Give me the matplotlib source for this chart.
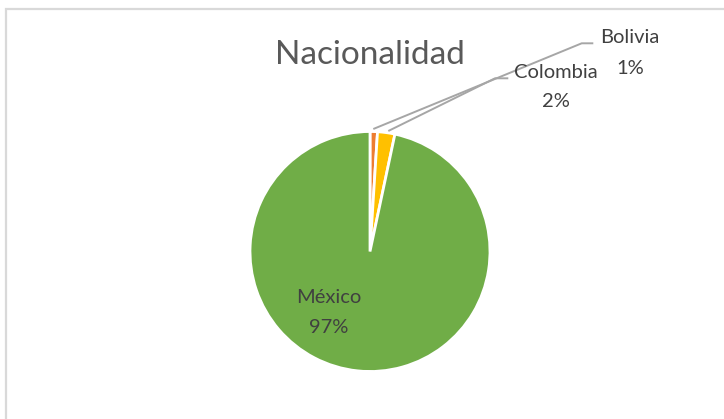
import matplotlib
matplotlib.use("Agg")
import matplotlib.pyplot as plt
from matplotlib.patches import Rectangle

title = "Nacionalidad"
categories = ["Bolivia", "Colombia", "México"]
counts = [3, 7, 290]
colors = ["#ED7D31", "#FFC000", "#70AD47"]

W, H = 724, 419
fig = plt.figure(figsize=(W / 100, H / 100), dpi=100)
plt.rcParams['font.family'] = ['Lato', 'DejaVu Sans']

# chart frame
fig.patches.append(Rectangle((5.5 / W, -0.1), 1.2, (H - 9.5) / H + 0.1,
                             transform=fig.transFigure, fill=False,
                             edgecolor="#D9D9D9", linewidth=1.6))

cx, cy, r = 370, 251.5, 120
ax = fig.add_axes([(cx - r) / W, (H - cy - r) / H, 2 * r / W, 2 * r / H])

wedges, _ = ax.pie(counts, colors=colors, startangle=90, counterclock=False,
                   radius=1, wedgeprops=dict(edgecolor="white", linewidth=2))
ax.set_xlim(-1, 1)
ax.set_ylim(-1, 1)
ax.axis("off")

def d(px, py):
    return ((px - cx) / r, (cy - py) / r)

total = sum(counts)
pcts = [f"{round(100 * c / total)}%" for c in counts]

line_kw = dict(color="#A6A6A6", linewidth=1.4, clip_on=False, solid_capstyle="butt")
# Bolivia leader
pts = [d(373.3, 129), d(581.7, 43.3), d(593.3, 43.3)]
ax.plot([p[0] for p in pts], [p[1] for p in pts], **line_kw)
# Colombia leader
pts = [d(388.3, 131), d(495, 78.3), d(508.3, 78.3)]
ax.plot([p[0] for p in pts], [p[1] for p in pts], **line_kw)

tkw = dict(ha="center", va="center", color="#404040", fontsize=14.5, clip_on=False)
ax.text(*d(630, 37), categories[0], **tkw)
ax.text(*d(630, 68), pcts[0], **tkw)
ax.text(*d(556, 72), categories[1], **tkw)
ax.text(*d(556, 101), pcts[1], **tkw)
ax.text(*d(329, 297), categories[2], **tkw)
ax.text(*d(329, 327), pcts[2], **tkw)

fig.text(370 / W, 1 - 55 / H, title, ha="center", va="center",
         color="#595959", fontsize=24)

fig.savefig("out.png", dpi=100)
